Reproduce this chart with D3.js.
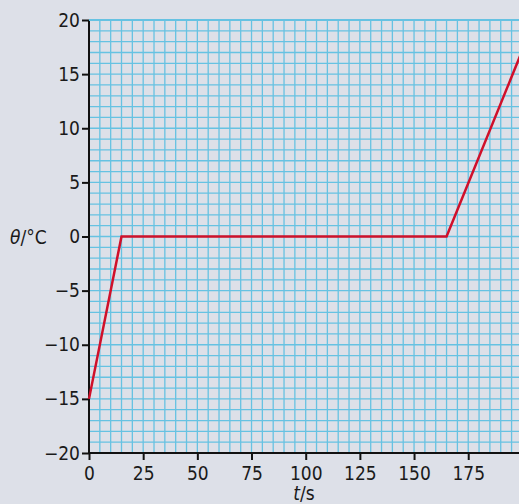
<!DOCTYPE html>
<html><head><meta charset="utf-8">
<script src="https://cdn.jsdelivr.net/npm/d3@7"></script>
<style>
html,body{margin:0;padding:0;background:#dde0e8;overflow:hidden}
svg{display:block}
text{font-family:"DejaVu Sans Condensed",sans-serif;fill:#1a1a1a}
</style></head><body>
<svg id="c" width="519" height="504"></svg>
<script>
const timeS = [0, 15, 165, 200];
const tempC = [-15, 0, 0, 17.2];
const xTicks = [0, 25, 50, 75, 100, 125, 150, 175];
const yTicks = [-20, -15, -10, -5, 0, 5, 10, 15, 20];
const xGrid = d3.range(0, 201, 5);
const yGrid = d3.range(-20, 21, 1);

const W = 519, H = 504;
const FONT = "'DejaVu Sans Condensed',sans-serif";
const x = d3.scaleLinear().domain([0, 200]).range([89, 522.4]);
const y = d3.scaleLinear().domain([-20, 20]).range([453, 20]);
const svg = d3.select("#c");

svg.append("rect").attr("width", W).attr("height", H).attr("fill", "#dde0e8");

const grid = svg.append("g").attr("stroke", "#66c2e2").attr("stroke-width", 1.3);
grid.selectAll("line.v").data(xGrid).join("line")
  .attr("x1", d => x(d)).attr("x2", d => x(d)).attr("y1", y(20)).attr("y2", y(-20));
grid.selectAll("line.h").data(yGrid).join("line")
  .attr("x1", x(0)).attr("x2", W).attr("y1", d => y(d)).attr("y2", d => y(d));

const yAxis = svg.append("g").attr("transform", `translate(${x(0)},0)`)
  .call(d3.axisLeft(y).tickValues(yTicks).tickSize(7).tickPadding(2)
    .tickFormat(d => d < 0 ? "\u2212" + Math.abs(d) : d));
const xAxis = svg.append("g").attr("transform", `translate(0,${y(-20)})`)
  .call(d3.axisBottom(x).tickValues(xTicks).tickSize(7).tickPadding(2));
[xAxis, yAxis].forEach(a => {
  a.select(".domain").attr("stroke", "#111").attr("stroke-width", 2);
  a.selectAll(".tick line").attr("stroke", "#111").attr("stroke-width", 2);
  a.selectAll("text").style("font-family", FONT).style("font-size", "19px").attr("fill", "#1a1a1a");
});
xAxis.select(".domain").attr("d", `M${x(0)},0H${W}`);
yAxis.select(".domain").attr("d", `M0,${y(20)}V${y(-20)}`);
svg.append("line").attr("x1", x(0)).attr("x2", W).attr("y1", y(20)).attr("y2", y(20))
  .attr("stroke", "#66c2e2").attr("stroke-width", 2);
xAxis.selectAll("text").attr("dy", "0.95em");

const line = d3.line().x((d, i) => x(timeS[i])).y(d => y(d));
svg.append("path").datum(tempC).attr("d", line)
  .attr("fill", "none").attr("stroke", "#d0102a").attr("stroke-width", 2.5)
  .attr("stroke-linejoin", "miter");

const yl = svg.append("text").attr("x", 10).attr("y", 244).style("font-size", "19px");
yl.append("tspan").text("θ").style("font-style", "italic");
yl.append("tspan").text("/°C");
const xl = svg.append("text").attr("x", 304).attr("y", 500).attr("text-anchor", "middle").style("font-size", "19px");
xl.append("tspan").text("t").style("font-style", "italic");
xl.append("tspan").text("/s");
</script></body></html>
